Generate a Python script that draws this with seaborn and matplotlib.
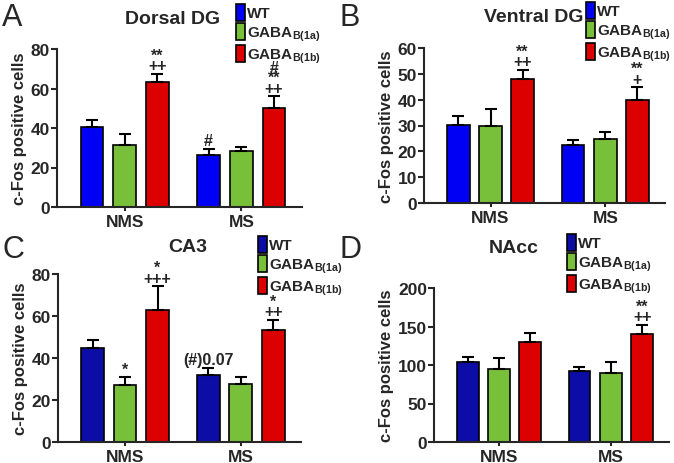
import numpy as np
import pandas as pd
import matplotlib
matplotlib.use('Agg')
import matplotlib.pyplot as plt
import seaborn as sns
from matplotlib.patches import Patch

sns.set_style('ticks')
plt.rcParams['font.family'] = ['Liberation Sans', 'DejaVu Sans']
plt.rcParams['font.weight'] = 'bold'
plt.rcParams['mathtext.fontset'] = 'custom'
plt.rcParams['mathtext.rm'] = 'Liberation Sans:bold'
plt.rcParams['mathtext.it'] = 'Liberation Sans:bold'
plt.rcParams['mathtext.bf'] = 'Liberation Sans:bold'
plt.rcParams['mathtext.default'] = 'bf'

# ---------------- data ----------------
conditions = ['NMS', 'MS']
genotypes = ['WT', 'GABA$_{B(1a)}$', 'GABA$_{B(1b)}$']

panel_letters = ['A', 'B', 'C', 'D']
panel_titles = ['Dorsal DG', 'Ventral DG', 'CA3', 'NAcc']
y_label = 'c-Fos positive cells'

# means per condition: [WT, 1a, 1b]
dorsal_nms = [40.4, 31.6, 63.1]
dorsal_ms = [26.4, 28.5, 50.0]
dorsal_nms_err = [3.9, 5.4, 4.2]
dorsal_ms_err = [3.1, 2.1, 6.0]

ventral_nms = [30.3, 29.9, 48.0]
ventral_ms = [22.4, 24.8, 39.8]
ventral_nms_err = [3.3, 6.6, 3.6]
ventral_ms_err = [2.1, 2.5, 5.0]

ca3_nms = [44.9, 27.0, 63.0]
ca3_ms = [31.7, 27.6, 53.3]
ca3_nms_err = [3.8, 3.8, 11.1]
ca3_ms_err = [3.5, 3.4, 4.8]

nacc_nms = [103.7, 94.6, 129.3]
nacc_ms = [92.4, 89.4, 140.1]
nacc_nms_err = [6.9, 14.3, 12.6]
nacc_ms_err = [5.2, 13.9, 11.7]

# significance marks, order: NMS WT,1a,1b, MS WT,1a,1b
dorsal_marks = ['', '', '**\n++', '#', '', '#\n**\n++']
ventral_marks = ['', '', '**\n++', '', '', '**\n+']
ca3_marks = ['', '*', '*\n+++', '(#)0.07', '', '*\n++']
nacc_marks = ['', '', '', '', '', '**\n++']

y_max = [80, 60, 80, 200]
y_step = [20, 10, 20, 50]

panels = [
    (dorsal_nms, dorsal_ms, dorsal_nms_err, dorsal_ms_err, dorsal_marks),
    (ventral_nms, ventral_ms, ventral_nms_err, ventral_ms_err, ventral_marks),
    (ca3_nms, ca3_ms, ca3_nms_err, ca3_ms_err, ca3_marks),
    (nacc_nms, nacc_ms, nacc_nms_err, nacc_ms_err, nacc_marks),
]

# ---------------- style / layout ----------------
W, H = 674, 464
bright = ['#0000F5', '#78C03A', '#DD0000']
dark = ['#0C0CA6', '#78C03A', '#DD0000']
palettes = [bright, bright, dark, dark]

# axes boxes in pixels: left, right, top(ymax), bottom(y0)
boxes = [(57, 302, 50, 208), (424, 665, 49, 204), (58, 301, 275, 443), (434, 669, 289, 443)]
legend_pos = [(236, 5), (586, 3), (258, 237), (567, 235)]
title_pos = [(173, 19), (534, 18), (188, 248), (514, 249)]
letter_pos = [(2, 26), (339, 26), (2, 258), (339, 258)]

fig = plt.figure(figsize=(W / 100, H / 100), dpi=100)

for i, (nms, ms, nms_e, ms_e, marks) in enumerate(panels):
    l, r, t, b = boxes[i]
    ax = fig.add_axes([l / W, 1 - b / H, (r - l) / W, (b - t) / H])
    df = pd.DataFrame({
        'condition': [c for c in conditions for _ in genotypes],
        'genotype': genotypes * len(conditions),
        'value': list(nms) + list(ms),
        'err': list(nms_e) + list(ms_e),
        'mark': marks,
    })
    sns.barplot(data=df, x='condition', y='value', hue='genotype',
                order=conditions, hue_order=genotypes, palette=palettes[i],
                errorbar=None, width=0.84, gap=0.3, edgecolor='black',
                linewidth=1.2, legend=False, ax=ax, saturation=1)
    bars = sorted([p for p in ax.patches], key=lambda p: p.get_x())
    xs = np.array([p.get_x() + p.get_width() / 2 for p in bars])
    vals = df['value'].to_numpy()
    errs = df['err'].to_numpy()
    ax.errorbar(xs, vals, yerr=[np.zeros_like(errs), errs], fmt='none',
                ecolor='black', elinewidth=1.5, capsize=4.3, capthick=1.5,
                zorder=1)
    for x, v, e, m in zip(xs, vals, errs, df['mark']):
        if m:
            ax.annotate(m, (x, v + e), xytext=(0, 0.5), textcoords='offset points',
                        ha='center', va='bottom', fontsize=11.5, fontweight='bold',
                        linespacing=0.62, annotation_clip=False)
    ax.set_xlim(-0.58, 1.52)
    ax.set_ylim(0, y_max[i])
    ax.set_yticks(np.arange(0, y_max[i] + 1, y_step[i]))
    ax.set_xlabel('')
    ax.set_ylabel(y_label, fontsize=12, fontweight='bold', labelpad=3)
    for s in ['top', 'right']:
        ax.spines[s].set_visible(False)
    for s in ['left', 'bottom']:
        ax.spines[s].set_linewidth(1.5)
    ax.tick_params(axis='y', direction='out', length=4, width=1.5, labelsize=12.5, pad=1)
    ax.tick_params(axis='x', direction='out', length=3, width=1.5, labelsize=12.5, pad=2)
    for lab in ax.get_xticklabels() + ax.get_yticklabels():
        lab.set_fontweight('bold')

    handles = [Patch(facecolor=c, edgecolor='black', linewidth=1.2) for c in palettes[i]]
    lx, ly = legend_pos[i]
    fig.legend(handles, genotypes, loc='upper left',
               bbox_to_anchor=(lx / W, 1 - ly / H), frameon=False,
               handlelength=0.6, handleheight=1.3,
               handletextpad=0.15, labelspacing=0.16, borderpad=0,
               borderaxespad=0, prop={'weight': 'bold', 'size': 11})

    tx, ty = title_pos[i]
    fig.text(tx / W, 1 - ty / H, panel_titles[i], ha='center', va='center',
             fontsize=14, fontweight='bold')
    px, py = letter_pos[i]
    fig.text(px / W, 1 - py / H, panel_letters[i], ha='left', va='baseline',
             fontsize=22, fontweight='normal')

fig.savefig('out.png', dpi=100)
